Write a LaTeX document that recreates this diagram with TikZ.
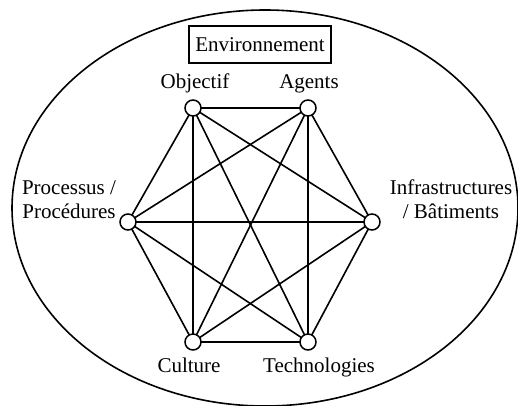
\documentclass[tikz,border=0pt]{standalone}
\usepackage{fontspec}
\setmainfont{Liberation Serif}
\begin{document}
\begin{tikzpicture}[x=1pt,y=-1pt,
  vertex/.style={circle,draw,line width=1.5pt,fill=white,minimum size=16pt,inner sep=0pt},
  lbl/.style={font=\fontsize{21}{24}\selectfont,inner sep=0pt},
  edge/.style={line width=1.6pt},
  envbox/.style={draw,line width=1.3pt,font=\fontsize{21}{24}\selectfont,minimum width=142pt,minimum height=37pt,inner sep=0pt}]
\useasboundingbox (0,0) rectangle (518,405);
\clip (0,0) rectangle (518,405);
\draw[line width=1.6pt] (265,208) ellipse [x radius=253, y radius=198];
\node[envbox] (env) at (260,44.5) {Environnement};
% vertices
\coordinate (pO) at (193,108);
\coordinate (pA) at (308,108);
\coordinate (pP) at (128,222);
\coordinate (pI) at (372,222);
\coordinate (pC) at (193,342);
\coordinate (pT) at (308,342);
\foreach \a/\b in {pO/pA,pO/pP,pO/pI,pO/pC,pO/pT,pA/pP,pA/pI,pA/pC,pA/pT,pP/pI,pP/pC,pP/pT,pI/pC,pI/pT,pC/pT}
  \draw[edge] (\a) -- (\b);
\node[vertex] (O) at (pO) {};
\node[vertex] (A) at (pA) {};
\node[vertex] (P) at (pP) {};
\node[vertex] (I) at (pI) {};
\node[vertex] (C) at (pC) {};
\node[vertex] (T) at (pT) {};
% labels
\node[lbl,anchor=base] (lO) at (195,88) {Objectif};
\node[lbl,anchor=base] (lA) at (309,88) {Agents};
\node[lbl,anchor=base,align=center] (lP) at (69,218) {Processus /\\Procédures};
\node[lbl,anchor=base,align=center] (lI) at (451,218) {Infrastructures\\/ Bâtiments};
\node[lbl,anchor=base] (lC) at (189,372) {Culture};
\node[lbl,anchor=base] (lT) at (319,372) {Technologies};
\end{tikzpicture}
\end{document}
